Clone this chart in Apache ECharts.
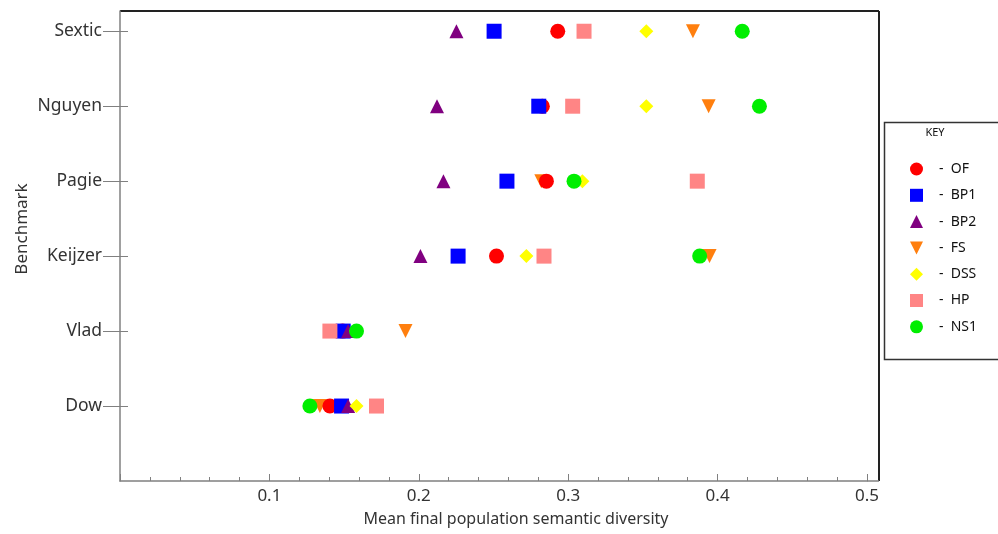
<!DOCTYPE html>
<html>
<head>
<meta charset="utf-8">
<style>
  html, body { margin: 0; padding: 0; background: #fff; }
  #chart { width: 998px; height: 534px; }
</style>
<script src="https://cdn.jsdelivr.net/npm/echarts@6/dist/echarts.min.js"></script>
</head>
<body>
<div id="chart"></div>
<script>
// benchmarks from bottom (1) to top (6)
const benchmarks = ['Dow', 'Vlad', 'Keijzer', 'Pagie', 'Nguyen', 'Sextic'];
const benchTicks = [1, 2, 3, 4, 5, 6];

// mean final population semantic diversity, same order as benchmarks
const ofVals  = [0.1405, 0.149, 0.252, 0.2854, 0.2827, 0.2930];
const bp1Vals = [0.1483, 0.1494, 0.2263, 0.259, 0.2803, 0.2504];
const bp2Vals = [0.1527, 0.1527, 0.2011, 0.2165, 0.2122, 0.2252];
const fsVals  = [0.1338, 0.1911, 0.3946, 0.282, 0.394, 0.3835];
const dssVals = [0.1583, 0.158, 0.272, 0.3095, 0.3523, 0.3523];
const hpVals  = [0.1717, 0.1405, 0.2838, 0.3864, 0.303, 0.3106];
const ns1Vals = [0.1271, 0.1583, 0.388, 0.3039, 0.428, 0.4165];

const xMajorTicks = [0.1, 0.2, 0.3, 0.4, 0.5];

const FONT = 'Noto Sans';
const DOWN_TRI = 'path://M0,0L10,0L5,10Z';

function pts(vals) {
  return vals.map((v, i) => [v, benchTicks[i]]);
}

function mk(name, vals, symbol, color, z, extra) {
  return Object.assign({
    name: name,
    type: 'scatter',
    data: pts(vals),
    symbol: symbol,
    symbolSize: 15,
    itemStyle: { color: color, opacity: 1 },
    z: z
  }, extra || {});
}

const chart = echarts.init(document.getElementById('chart'));

chart.setOption({
  backgroundColor: '#fff',
  animation: false,
  grid: { left: 120, right: 131, top: 11, bottom: 53 },
  xAxis: {
    type: 'value',
    min: 0,
    max: 0.5,
    interval: 0.1,
    splitLine: { show: false },
    axisLine: { lineStyle: { color: '#808080', width: 1.5 } },
    axisTick: { inside: true, length: 7, lineStyle: { color: '#808080' } },
    minorTick: { show: true, splitNumber: 5, length: 4, lineStyle: { color: '#808080' } },
    axisLabel: {
      customValues: xMajorTicks,
      formatter: v => String(Math.round(v * 10) / 10),
      color: '#333', fontFamily: FONT, fontSize: 17, margin: 7
    }
  },
  yAxis: [{
    type: 'value',
    min: 0,
    max: 6.27,
    splitLine: { show: false },
    axisLine: { show: true, lineStyle: { color: '#808080', width: 1.5 } },
    axisTick: { customValues: benchTicks, length: 17, lineStyle: { color: '#808080' } },
    axisLabel: {
      customValues: benchTicks,
      formatter: v => benchmarks[Math.round(v) - 1] || '',
      color: '#333', fontFamily: FONT, fontSize: 17.5, margin: 18
    }
  }, {
    type: 'value',
    position: 'left',
    min: 0,
    max: 6.27,
    splitLine: { show: false },
    axisLine: { show: false },
    axisTick: { show: true, inside: true, customValues: benchTicks, length: 8, lineStyle: { color: '#808080' } },
    axisLabel: { show: false }
  }],
  legend: {
    orient: 'vertical',
    left: 905,
    top: 157,
    itemWidth: 13,
    itemHeight: 13,
    itemGap: 12.3,
    textStyle: { color: '#111', fontFamily: FONT, fontSize: 14 },
    formatter: name => '   -  ' + name,
    data: ['OF', 'BP1', 'BP2', { name: 'FS', icon: DOWN_TRI }, 'DSS', 'HP', 'NS1']
  },
  graphic: [
    { type: 'line', shape: { x1: 120, y1: 11, x2: 879, y2: 11 }, style: { stroke: '#222', lineWidth: 2 } },
    { type: 'line', shape: { x1: 879, y1: 11, x2: 879, y2: 481 }, style: { stroke: '#222', lineWidth: 2 } },
    { type: 'line', shape: { x1: 867, y1: 481, x2: 879, y2: 481 }, style: { stroke: '#808080', lineWidth: 1.5 } },
    { type: 'rect', shape: { x: 884.5, y: 122.5, width: 120, height: 237 }, style: { fill: 'none', stroke: '#333', lineWidth: 1.5 } },
    { type: 'text', x: 935, y: 133, style: { text: 'KEY', fill: '#111', font: '11px "Noto Sans"', align: 'center', verticalAlign: 'middle' } },
    { type: 'text', x: 22, y: 229, rotation: Math.PI / 2, style: { text: 'Benchmark', fill: '#333', font: '17px "Noto Sans"', align: 'center', verticalAlign: 'middle' } },
    { type: 'text', x: 516, y: 519, style: { text: 'Mean final population semantic diversity', fill: '#333', font: '16px "Noto Sans"', align: 'center', verticalAlign: 'middle' } }
  ],
  series: [
    mk('OF', ofVals, 'circle', '#ff0000', 3),
    mk('BP1', bp1Vals, 'rect', '#0000ff', 4),
    mk('BP2', bp2Vals, 'triangle', '#800080', 5, { symbolSize: 14 }),
    mk('FS', fsVals, DOWN_TRI, '#ff7f0e', 2, { symbolSize: 14 }),
    mk('DSS', dssVals, 'diamond', '#ffff00', 6, { symbolSize: 14 }),
    mk('HP', hpVals, 'rect', '#ff8585', 7),
    mk('NS1', ns1Vals, 'circle', '#00ee00', 8)
  ]
});
</script>
</body>
</html>
